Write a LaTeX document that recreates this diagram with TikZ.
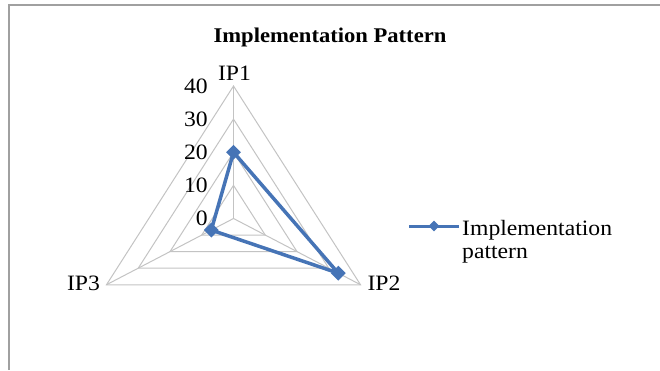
\documentclass[tikz,border=0pt]{standalone}
\usepackage{fontspec}
\setmainfont{Liberation Serif}[FakeStretch=1.08]
\usetikzlibrary{shapes.geometric}

\definecolor{gridgray}{RGB}{195,195,195}
\definecolor{framegray}{RGB}{160,160,160}
\definecolor{seriesblue}{RGB}{70,116,182}

\begin{document}
\begin{tikzpicture}[x = 1bp, y = 1bp,
    ring/.style = {draw = gridgray, line width = 1bp},
    series/.style = {draw = seriesblue, line width = 3.5bp, line join = round},
    datapt/.style = {diamond, fill = seriesblue, inner sep = 0pt, minimum size = 15bp},
    lbl/.style = {font = \fontsize{22}{25}\selectfont, inner sep = 0pt}]
  \useasboundingbox (0,0) rectangle (660,370);
  \draw[framegray, line width = 2bp] (8.5,0) -- (8.5,364.5) -- (660,364.5);

  \node[lbl, font = \bfseries\fontsize{21}{25}\selectfont, anchor = base] (title) at (330,328) {Implementation Pattern};

  \begin{scope}[shift = {(233.5,151.5)}, xscale = 1.107]
    \coordinate (O) at (0,0);
    \coordinate (A1) at (90:132.5);
    \coordinate (A2) at (-30:132.5);
    \coordinate (A3) at (210:132.5);
    \foreach \r in {1,...,4}
      \draw[ring] ({90}:{\r*33.125}) -- ({-30}:{\r*33.125}) -- ({210}:{\r*33.125}) -- cycle;
    \path[ring] (O) edge (A1) edge (A2) edge (A3);
    % data: IP1 = 20, IP2 = 33, IP3 = 7
    \coordinate (d1) at ({90}:{20*3.3125});
    \coordinate (d2) at ({-30}:{33*3.3125});
    \coordinate (d3) at ({210}:{7*3.3125});
  \end{scope}

  \foreach \r in {0,10,...,40}
    \node[lbl, anchor = east] (t\r) at (208,{151.5+\r*3.3125}) {\r};

  \node[lbl, anchor = base] (ip1) at (234.5,290) {IP1};
  \node[lbl, anchor = base] (ip2) at (384,80) {IP2};
  \node[lbl, anchor = base] (ip3) at (83.5,80) {IP3};

  \draw[series] (d1) -- (d2) -- (d3) -- cycle;
  \foreach \d in {1,2,3}
    \node[datapt] (m\d) at (d\d) {};

  % legend
  \coordinate (l1) at (409,144);
  \coordinate (l2) at (459,144);
  \draw[series, line width = 3bp] (l1) -- (l2);
  \node[datapt, minimum size = 11bp] (lm) at (434,144) {};
  \node[lbl, anchor = base west] (leg1) at (462,135) {Implementation};
  \node[lbl, anchor = base west] (leg2) at (462,112) {pattern};
\end{tikzpicture}
\end{document}
